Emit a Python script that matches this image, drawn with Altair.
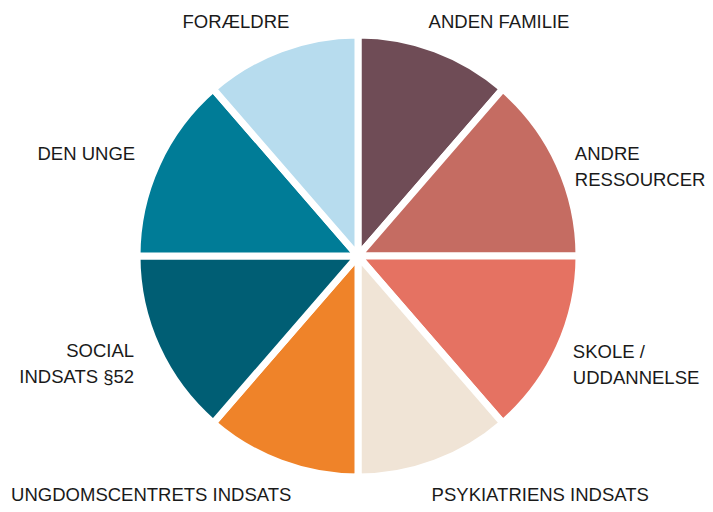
import altair as alt
import pandas as pd

# Data (clockwise from 12 o'clock)
categories = ["ANDEN FAMILIE", "ANDRE RESSOURCER", "SKOLE / UDDANNELSE",
              "PSYKIATRIENS INDSATS", "UNGDOMSCENTRETS INDSATS",
              "SOCIAL INDSATS §52", "DEN UNGE", "FORÆLDRE"]
labels = ["ANDEN FAMILIE", "ANDRE\nRESSOURCER", "SKOLE /\nUDDANNELSE",
          "PSYKIATRIENS INDSATS", "UNGDOMSCENTRETS INDSATS",
          "SOCIAL\nINDSATS §52", "DEN UNGE", "FORÆLDRE"]
values = [5, 6, 6, 5, 5, 6, 6, 5]
colors = ["#6f4c56", "#c56c62", "#e57262", "#f0e4d6",
          "#ef8329", "#005e74", "#007c97", "#b7dcee"]

df = pd.DataFrame({"category": categories, "label": labels,
                   "value": values, "order": list(range(len(categories)))})

# label placement styling (align, dx, dy) per category
label_style = {
    "ANDEN FAMILIE": ("left", -15, -4),
    "ANDRE RESSOURCER": ("left", -6, 0),
    "SKOLE / UDDANNELSE": ("left", -8, -6),
    "PSYKIATRIENS INDSATS": ("left", -12, 9),
    "UNGDOMSCENTRETS INDSATS": ("right", 19, 9),
    "SOCIAL INDSATS §52": ("right", -1, -7),
    "DEN UNGE": ("right", 0, 0),
    "FORÆLDRE": ("right", 17, -4),
}

base = alt.Chart(df).encode(
    theta=alt.Theta("value:Q", stack=True),
    order=alt.Order("order:Q"),
    x=alt.value(350),
    y=alt.value(248),
)

pie = base.mark_arc(outerRadius=221, stroke="white", strokeWidth=7).encode(
    color=alt.Color("category:N",
                    scale=alt.Scale(domain=categories, range=colors),
                    legend=None)
)

layers = [pie]
for cat in categories:
    align, dx, dy = label_style[cat]
    layers.append(
        base.mark_text(align=align, baseline="middle", dx=dx, dy=dy,
                       font="Liberation Sans", fontSize=18.5, color="#1a1a1a",
                       lineBreak="\n", lineHeight=26).encode(
            radius=alt.value(245),
            text=alt.condition(alt.datum.category == cat, "label:N", alt.value("")),
        )
    )

chart = alt.layer(*layers).properties(
    width=697, height=496, padding=0,
    autosize=alt.AutoSizeParams(type="none"),
).configure_view(stroke=None)

chart.save("out.html", embed_options={"renderer": "svg", "actions": False})
